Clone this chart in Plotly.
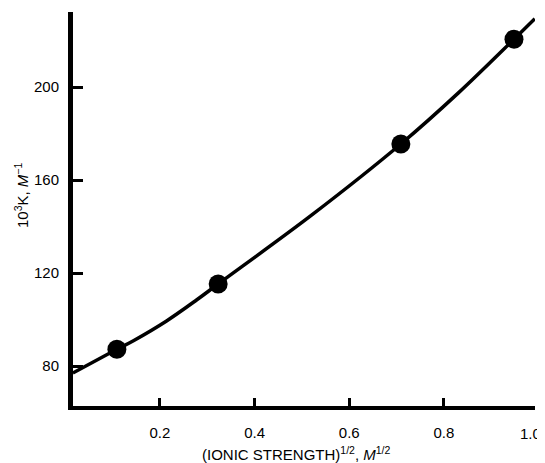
import plotly.graph_objects as go

# measured points
sqrt_ionic_strength = [0.109, 0.323, 0.709, 0.948]
k_values = [87.2, 115.3, 175.5, 220.6]

# drawn smooth curve
curve_x = [0.016, 0.109, 0.144, 0.214, 0.278, 0.323, 0.521, 0.709, 0.830, 0.948, 0.992]
curve_y = [77.0, 87.2, 90.9, 99.4, 108.5, 115.3, 145.0, 175.5, 197.4, 220.6, 229.4]

x_ticks = [0.2, 0.4, 0.6, 0.8]
x_tick_labels = ["0.2", "0.4", "0.6", "0.8"]
x_end_label = "1.0"
y_ticks = [80, 120, 160, 200]
y_tick_labels = ["80", "120", "160", "200"]

FONT = "Liberation Sans, Arial, sans-serif"

# page body has an 8px margin: compensate so screen positions match
OFF = 8
L, R, T, B = 73, 535, 12, 406          # plot area in screen pixels
FW, FH = 545 - OFF, 463 - OFF
W, H = R - L, B - T

fig = go.Figure()
fig.add_trace(go.Scatter(
    x=curve_x, y=curve_y, mode="lines",
    line=dict(color="black", width=3.5, shape="spline", smoothing=1.0),
    hoverinfo="skip", showlegend=False,
))
fig.add_trace(go.Scatter(
    x=sqrt_ionic_strength, y=k_values, mode="markers",
    marker=dict(color="black", size=19),
    showlegend=False,
))

fig.update_layout(
    width=FW, height=FH,
    margin=dict(l=L - OFF, r=FW - (R - OFF), t=T - OFF, b=FH - (B - OFF), pad=0),
    paper_bgcolor="white", plot_bgcolor="white",
    font=dict(family=FONT, color="black", size=15),
    xaxis=dict(
        range=[0.0163, 0.9924],
        showline=True, linecolor="black", linewidth=4,
        ticks="inside", ticklen=8, tickwidth=2.5, tickcolor="black",
        tickvals=x_ticks, ticktext=x_tick_labels,
        showgrid=False, zeroline=False,
        ticklabelstandoff=10,
        tickfont=dict(size=15),
    ),
    yaxis=dict(
        range=[62.8, 232.3],
        showline=True, linecolor="black", linewidth=5,
        ticks="inside", ticklen=10, tickwidth=2.5, tickcolor="black",
        tickvals=y_ticks, ticktext=y_tick_labels,
        showgrid=False, zeroline=False,
        ticklabelstandoff=6,
        tickfont=dict(size=15),
    ),
    annotations=[
        dict(text=x_end_label, xref="paper", x=(533 - L) / W,
             yref="paper", y=(B - 433) / H,
             xanchor="right", yanchor="middle", xshift=10,
             showarrow=False, font=dict(size=15)),
        dict(text="(IONIC STRENGTH)<sup>1/2</sup>, <i>M</i><sup>1/2</sup>",
             xref="paper", x=(296 - L) / W, yref="paper", y=(B - 454) / H,
             xanchor="center", yanchor="middle",
             showarrow=False, font=dict(size=15)),
        dict(text="10<sup>3</sup>K, <i>M</i><sup>−1</sup>",
             xref="paper", x=(21 - L) / W, yref="paper", y=(B - 195) / H,
             xanchor="center", yanchor="middle",
             textangle=-90, showarrow=False, font=dict(size=15)),
    ],
)

fig.write_html("out.html")
